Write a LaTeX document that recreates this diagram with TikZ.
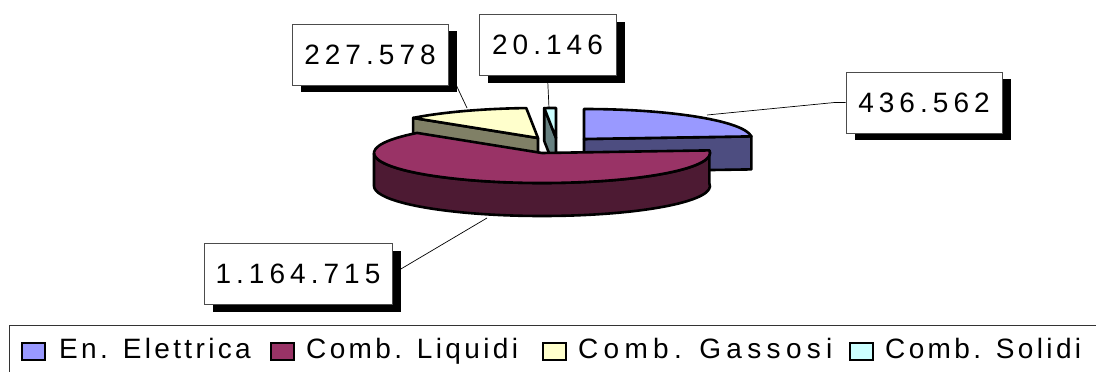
\documentclass[tikz,border=0pt]{standalone}
\usepackage{fontspec}
\setmainfont{Liberation Sans}
\newfontfamily\lblfont[LetterSpace=18]{Liberation Sans}
\newfontfamily\legfont[LetterSpace=12]{Liberation Sans}
\usetikzlibrary{shadows}
\pgfdeclarelayer{background}
\pgfsetlayers{background,main}

\definecolor{eleT}{HTML}{9999FF}
\definecolor{eleS}{HTML}{4D4D80}
\definecolor{liqT}{HTML}{993366}
\definecolor{liqS}{HTML}{4D1A33}
\definecolor{gasT}{HTML}{FFFFCC}
\definecolor{gasS}{HTML}{808066}
\definecolor{solT}{HTML}{CCFFFF}
\definecolor{solS}{HTML}{668080}

\begin{document}
\begin{tikzpicture}[x=1pt,y=1pt,
    pie/.style={draw=black, line width=2.6pt, line join=round},
    slice/.style={x radius=168pt, y radius=30pt},
    lbl/.style={draw=black!70, line width=0.8pt, fill=white, minimum width=#1,
      minimum height=61pt, inner sep=0pt, font=\lblfont\fontsize{28}{30}\selectfont,
      drop shadow={shadow xshift=9pt, shadow yshift=-7pt, fill=black, opacity=1}},
    leader/.style={draw=black, line width=0.7pt},
    key/.style={draw=black, line width=2.4pt, minimum width=23pt, minimum height=17pt, inner sep=0pt},
    legtxt/.style={anchor=base west, inner sep=0pt, font=\legfont\fontsize{28}{30}\selectfont}]
\useasboundingbox (0,0) rectangle (1096,-372);

% slice centres (exploded pie)
\coordinate (ele) at (584,-139);
\coordinate (gas) at (538,-138);
\coordinate (sol) at (556,-138);
\coordinate (liq) at (542,-153);

% En. Elettrica
\draw[pie, fill=eleS] (ele) -- ([shift={(ele)}]5:168pt and 30pt) -- ++(0,-33) -- ([shift={(ele)}]0,-33) -- cycle;
\draw[pie, fill=eleT] (ele) -- ([shift={(ele)}]5:168pt and 30pt) arc[slice, start angle=5, end angle=90] -- cycle;

% Comb. Gassosi
\draw[pie, fill=gasS] (gas) -- ([shift={(gas)}]138:168pt and 30pt) -- ++(0,-33) -- ([shift={(gas)}]0,-33) -- cycle;
\draw[pie, fill=gasT] (gas) -- ([shift={(gas)}]94:168pt and 30pt) arc[slice, start angle=94, end angle=138] -- cycle;

% Comb. Solidi
\draw[pie, fill=solS] (sol) -- ([shift={(sol)}]94:168pt and 30pt) -- ++(0,-33) -- ([shift={(sol)}]0,-33) -- cycle;
\draw[pie, fill=solT] (sol) -- ([shift={(sol)}]90:168pt and 30pt) arc[slice, start angle=90, end angle=94] -- cycle;

% Comb. Liquidi
\draw[pie, fill=liqS] ([shift={(liq)}]180:168pt and 30pt) arc[slice, start angle=180, end angle=365]
  -- ++(0,-33) arc[slice, start angle=365, end angle=180] -- cycle;
\draw[pie, fill=liqT] (liq) -- ([shift={(liq)}]138:168pt and 30pt) arc[slice, start angle=138, end angle=365] -- cycle;

% value labels
\node[lbl=156pt] (lblGas) at (370,-54.5) {227.578};
\node[lbl=137pt] (lblSol) at (547.5,-45) {20.146};
\node[lbl=156pt] (lblEle) at (924,-102.5) {436.562};
\node[lbl=188pt] (lblLiq) at (298,-274) {1.164.715};

\coordinate (gasP) at (467,-108);
\coordinate (solP) at (549,-108);
\coordinate (eleP) at (707,-115);
\coordinate (liqP) at (487,-218);

\begin{pgfonlayer}{background}
\draw[leader] ([yshift=-14pt]lblGas.east) -- (gasP);
\draw[leader] (lblSol.south) -- (solP);
\draw[leader] (lblEle.west) -- ++(-11,0) -- (eleP);
\draw[leader] (lblLiq.east) -- (liqP);
\end{pgfonlayer}

% legend
\draw[draw=black!80, line width=1pt] (9,-325) rectangle (1110,-390);
\node[key, fill=eleT] (keyEle) at (33.5,-351.5) {};
\node[legtxt] (legEle) at (59,-358) {En. Elettrica};
\node[key, fill=liqT] (keyLiq) at (282.5,-351.5) {};
\node[legtxt] (legLiq) at (306,-358) {Comb. Liquidi};
\node[key, fill=gasT] (keyGas) at (554.5,-351.5) {};
\node[legtxt] (legGas) at (578,-358) {\addfontfeature{LetterSpace=19}Comb. Gassosi};
\node[key, fill=solT] (keySol) at (861.5,-351.5) {};
\node[legtxt] (legSol) at (885,-358) {Comb. Solidi};

\end{tikzpicture}
\end{document}
